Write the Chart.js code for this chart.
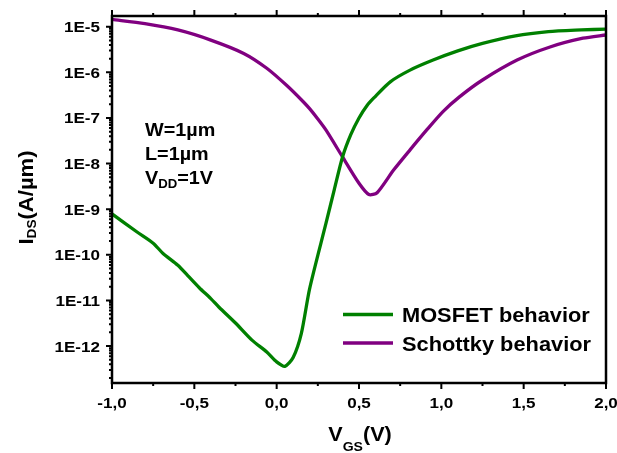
<!DOCTYPE html>
<html>
<head>
<meta charset="utf-8">
<script src="https://cdn.jsdelivr.net/npm/chart.js@4/dist/chart.umd.min.js"></script>
<style>
  html, body { margin: 0; padding: 0; background: #fff; }
  #wrap { width: 617px; height: 453px; position: relative; }
</style>
</head>
<body>
<div id="wrap"><canvas id="ivChart"></canvas></div>
<script>
// V_GS sweep (V) and drain current (A/um) for each behavior
const mosfetV = [-1.0, -0.85, -0.75, -0.69, -0.6, -0.54, -0.47, -0.4, -0.35, -0.25, -0.15, -0.06, 0.0, 0.05, 0.1, 0.15, 0.2, 0.3, 0.35, 0.4, 0.45, 0.5, 0.55, 0.59, 0.69, 0.81, 0.95, 1.1, 1.25, 1.45, 1.65, 1.85, 2.0];
const mosfetI = [7.9e-10, 3.2e-10, 1.8e-10, 1.07e-10, 5.9e-11, 3.5e-11, 1.9e-11, 1.1e-11, 7.1e-12, 3.2e-12, 1.35e-12, 7.4e-13, 4.5e-13, 3.6e-13, 5.6e-13, 1.9e-12, 1.8e-11, 5e-10, 2.7e-9, 1.4e-8, 4.3e-8, 1e-7, 1.9e-7, 2.75e-7, 6.2e-7, 1.12e-6, 1.86e-6, 2.95e-6, 4.3e-6, 6.3e-6, 7.8e-6, 8.5e-6, 8.9e-6];

const schottkyV = [-1.0, -0.8, -0.6, -0.4, -0.2, -0.06, 0.06, 0.16, 0.2, 0.25, 0.3, 0.4, 0.5, 0.56, 0.61, 0.71, 0.81, 0.91, 1.01, 1.11, 1.25, 1.46, 1.66, 1.86, 2.0];
const schottkyI = [1.45e-5, 1.17e-5, 8.5e-6, 5.1e-6, 2.6e-6, 1.23e-6, 5.2e-7, 2.3e-7, 1.6e-7, 9.5e-8, 5.4e-8, 1.4e-8, 3.7e-9, 2.1e-9, 2.3e-9, 7.2e-9, 2e-8, 5.4e-8, 1.38e-7, 2.9e-7, 6.8e-7, 1.86e-6, 3.6e-6, 5.6e-6, 6.6e-6];

const xTicks = [-1.0, -0.5, 0.0, 0.5, 1.0, 1.5, 2.0];
const yDecades = [-13, -12, -11, -10, -9, -8, -7, -6, -5];

const seriesNames = ['MOSFET behavior', 'Schottky behavior'];
const seriesColors = ['#008000', '#800080'];

const FONT = '"Liberation Sans", Arial, sans-serif';

function toPoints(xs, ys) {
    return xs.map((x, i) => ({ x: x, y: ys[i] }));
}

// text a little wider than Liberation, like the original
function wideText(ctx, str, x, y, size, stretch, align) {
    ctx.save();
    ctx.font = 'bold ' + size + 'px ' + FONT;
    ctx.translate(x, y);
    ctx.scale(stretch, 1);
    ctx.textAlign = align || 'left';
    ctx.fillText(str, 0, 0);
    ctx.restore();
}

function wideWidth(ctx, str, size, stretch) {
    ctx.font = 'bold ' + size + 'px ' + FONT;
    return ctx.measureText(str).width * stretch;
}

// frame, tick marks and labels, titles, notes and legend
const decorPlugin = {
    id: 'decor',
    afterDraw(chart) {
        const ctx = chart.ctx;
        const a = chart.chartArea;
        const xs = chart.scales.x;
        const ys = chart.scales.y;
        ctx.save();
        ctx.strokeStyle = '#000';
        ctx.lineWidth = 2.5;
        ctx.strokeRect(a.left, a.top, a.right - a.left, a.bottom - a.top);

        ctx.lineWidth = 2;
        ctx.beginPath();
        for (let v = -1.0; v <= 2.0001; v += 0.25) {
            const px = xs.getPixelForValue(v);
            const major = Math.abs(v * 2 - Math.round(v * 2)) < 1e-6;
            const len = major ? 6 : 3;
            ctx.moveTo(px, a.bottom);
            ctx.lineTo(px, a.bottom + len);
            ctx.moveTo(px, a.top);
            ctx.lineTo(px, a.top - len);
        }
        ys.ticks.forEach(t => {
            const py = ys.getPixelForValue(t.value);
            if (py < a.top - 0.5 || py > a.bottom + 0.5) return;
            const len = t.major ? 6 : 3;
            ctx.moveTo(a.left, py);
            ctx.lineTo(a.left - len, py);
        });
        ctx.stroke();

        ctx.fillStyle = '#000';
        ctx.textBaseline = 'alphabetic';

        // tick labels
        xTicks.forEach(v => {
            const px = xs.getPixelForValue(v);
            wideText(ctx, v.toFixed(1).replace('.', ','), px, 408, 15.5, 1.1, 'center');
        });
        yDecades.forEach(d => {
            const v = Math.pow(10, d);
            if (v < ys.min || v > ys.max) return;
            const py = ys.getPixelForValue(v);
            wideText(ctx, '1E' + d, 100, py + 5.5, 15.5, 1.1, 'right');
        });

        // x title
        let w1 = wideWidth(ctx, 'V', 20, 1.08);
        let w2 = wideWidth(ctx, 'GS', 13, 1.08);
        let w3 = wideWidth(ctx, '(V)', 20, 1.08);
        let sx = 360 - (w1 + w2 + w3) / 2;
        wideText(ctx, 'V', sx, 441, 20, 1.08);
        wideText(ctx, 'GS', sx + w1, 451, 13, 1.08);
        wideText(ctx, '(V)', sx + w1 + w2, 441, 20, 1.08);

        // y title
        ctx.save();
        ctx.translate(33, 197.5);
        ctx.rotate(-Math.PI / 2);
        w1 = wideWidth(ctx, 'I', 21, 1.05);
        w2 = wideWidth(ctx, 'DS', 13, 1.05);
        w3 = wideWidth(ctx, '(A/\u00b5m)', 21, 1.05);
        sx = -(w1 + w2 + w3) / 2;
        wideText(ctx, 'I', sx, 0, 21, 1.05);
        wideText(ctx, 'DS', sx + w1, 3, 13, 1.05);
        wideText(ctx, '(A/\u00b5m)', sx + w1 + w2, 0, 21, 1.05);
        ctx.restore();

        // device notes
        wideText(ctx, 'W=1\u00b5m', 145, 136, 18, 1.1);
        wideText(ctx, 'L=1\u00b5m', 145, 160, 18, 1.1);
        w1 = wideWidth(ctx, 'V', 18, 1.1);
        w2 = wideWidth(ctx, 'DD', 12, 1.1);
        wideText(ctx, 'V', 145, 184, 18, 1.1);
        wideText(ctx, 'DD', 145 + w1, 188, 12, 1.1);
        wideText(ctx, '=1V', 145 + w1 + w2, 184, 18, 1.1);

        // legend
        ctx.lineWidth = 3.5;
        seriesNames.forEach((name, i) => {
            const ly = 314.5 + i * 28.5;
            ctx.strokeStyle = seriesColors[i];
            ctx.beginPath();
            ctx.moveTo(343, ly);
            ctx.lineTo(393, ly);
            ctx.stroke();
            ctx.fillStyle = '#000';
            wideText(ctx, name, 402, ly + 7.5, 20, 1.09);
        });
        ctx.restore();
    }
};

const canvas = document.getElementById('ivChart');

new Chart(canvas, {
    type: 'line',
    data: {
        datasets: [
            {
                label: seriesNames[0],
                data: toPoints(mosfetV, mosfetI),
                borderColor: seriesColors[0],
                borderWidth: 3.3,
                pointRadius: 0,
                tension: 0.25,
                fill: false
            },
            {
                label: seriesNames[1],
                data: toPoints(schottkyV, schottkyI),
                borderColor: seriesColors[1],
                borderWidth: 3.3,
                pointRadius: 0,
                tension: 0.25,
                fill: false
            }
        ]
    },
    options: {
        responsive: true,
        maintainAspectRatio: false,
        animation: false,
        layout: { padding: { top: 16, right: 11, left: 0, bottom: 0 } },
        plugins: {
            legend: { display: false },
            tooltip: { enabled: false }
        },
        scales: {
            x: {
                type: 'linear',
                min: -1.0,
                max: 2.0,
                afterFit(scale) {
                    scale.height = 70;
                    scale.paddingLeft = 0;
                    scale.paddingRight = 0;
                },
                afterBuildTicks(scale) {
                    scale.ticks = xTicks.map(v => ({ value: v }));
                },
                grid: { display: false, drawTicks: false },
                border: { display: false },
                ticks: { display: false }
            },
            y: {
                type: 'logarithmic',
                min: 1.55e-13,
                max: 1.72e-5,
                afterFit(scale) {
                    scale.width = 112;
                    scale.paddingTop = 0;
                    scale.paddingBottom = 0;
                },
                afterBuildTicks(scale) {
                    const list = [];
                    yDecades.forEach(d => {
                        for (let k = 1; k <= 9; k++) {
                            const v = k * Math.pow(10, d);
                            if (v >= scale.min && v <= scale.max) {
                                list.push({ value: v, major: k === 1 });
                            }
                        }
                    });
                    scale.ticks = list;
                },
                grid: { display: false, drawTicks: false },
                border: { display: false },
                ticks: { display: false, autoSkip: false }
            }
        }
    },
    plugins: [decorPlugin]
});
</script>
</body>
</html>
